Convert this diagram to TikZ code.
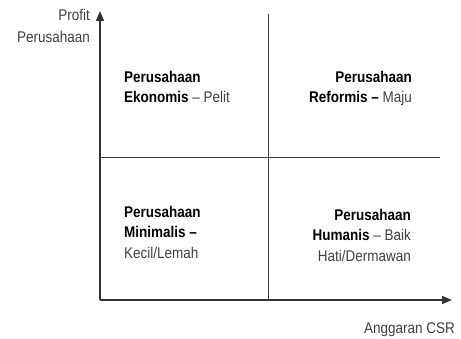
\documentclass[tikz,border=0pt]{standalone}
\usepackage{fontspec}
\setmainfont{Liberation Sans}[FakeStretch=0.87]
\usetikzlibrary{arrows.meta}
\begin{document}
\begin{tikzpicture}[x=1pt,y=-1pt,
  axis/.style={line width=1.4pt, draw=black!80, -{Triangle[length=10pt,width=8pt]}},
  divider/.style={line width=1pt, draw=black!75},
  lbl/.style={font=\fontsize{15.5}{22}\selectfont, text=black!75, inner sep=0pt},
  quad/.style={font=\fontsize{15.5}{20.5}\selectfont, inner sep=0pt, align=left},
  quadr/.style={font=\fontsize{15.5}{20.5}\selectfont, inner sep=0pt, align=right}]
\useasboundingbox (0,0) rectangle (461,339);
% axes
\coordinate (O) at (100,300);
\coordinate (ytip) at (100,11);
\coordinate (xtip) at (452,300);
\draw[axis] (O) -- (ytip);
\draw[axis] (O) -- (xtip);
% quadrant dividers
\coordinate (vtop) at (268,14);
\coordinate (vbot) at (268,300);
\coordinate (hl) at (100,158);
\coordinate (hr) at (440,158);
\draw[divider] (vtop) -- (vbot);
\draw[divider] (hl) -- (hr);
% axis labels
\node[lbl, anchor=north east, align=right] (ylab) at (90,9.5) {Profit\\Perusahaan};
\node[lbl, anchor=north east] (xlab) at (455,322) {Anggaran CSR};
% quadrant texts
\node[quad, anchor=north west] (q1) at (124,71) {\textbf{Perusahaan}\\\textbf{Ekonomis} \textcolor{black!75}{– Pelit}};
\node[quadr, anchor=north east] (q2) at (412,71) {\textbf{Perusahaan}\\\textbf{Reformis –} \textcolor{black!75}{Maju}};
\node[quad, anchor=north west] (q3) at (124,206) {\textbf{Perusahaan}\\\textbf{Minimalis –}\\\textcolor{black!75}{Kecil/Lemah}};
\node[quadr, anchor=north east] (q4) at (411,209) {\textbf{Perusahaan}\\\textbf{Humanis} \textcolor{black!75}{– Baik}\\\textcolor{black!75}{Hati/Dermawan}};
\end{tikzpicture}
\end{document}
